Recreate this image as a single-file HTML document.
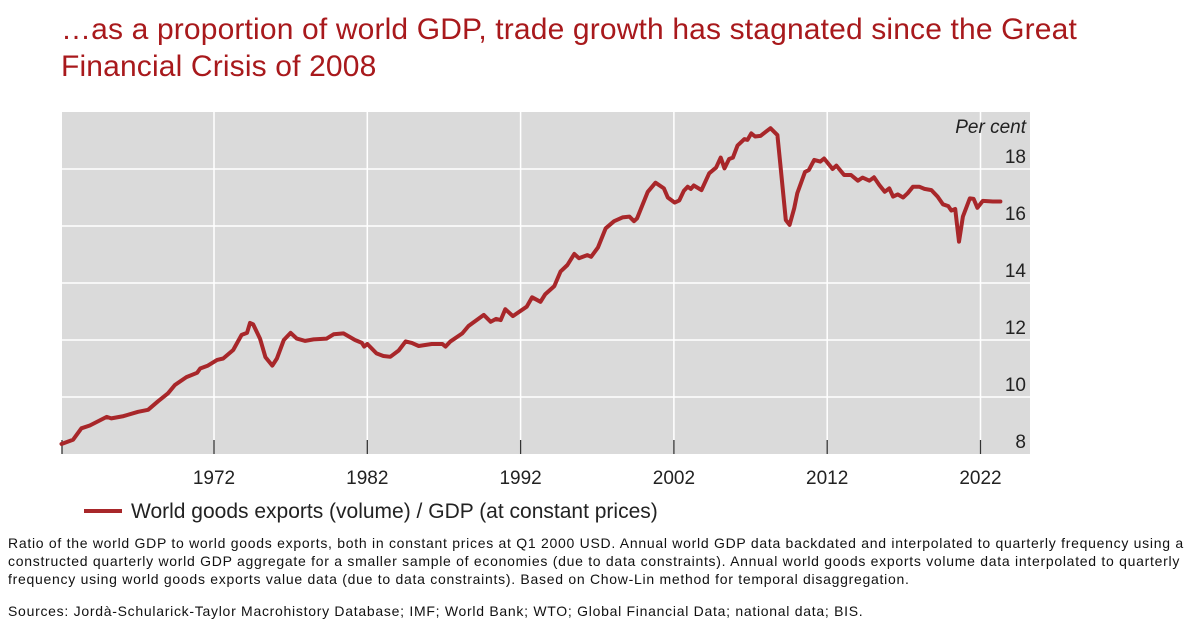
<!DOCTYPE html>
<html><head><meta charset="utf-8">
<style>
body{margin:0;width:1200px;height:629px;background:#fff;font-family:"Liberation Sans",sans-serif;overflow:hidden;position:relative}
#title{position:absolute;left:61px;top:11px;color:#a8191c;font-size:30px;line-height:37px;letter-spacing:0.15px;white-space:nowrap}
.fn{position:absolute;left:8px;font-size:14px;white-space:nowrap;color:#111;letter-spacing:0.72px}
</style></head><body>
<div id="title">…as a proportion of world GDP, trade growth has stagnated since the Great<br>Financial Crisis of 2008</div>
<svg id="chart" width="1200" height="629" style="position:absolute;left:0;top:0">
</svg>
<div class="fn" style="top:535px">Ratio of the world GDP to world goods exports, both in constant prices at Q1 2000 USD. Annual world GDP data backdated and interpolated to quarterly frequency using a</div>
<div class="fn" style="top:553px">constructed quarterly world GDP aggregate for a smaller sample of economies (due to data constraints). Annual world goods exports volume data interpolated to quarterly</div>
<div class="fn" style="top:571px">frequency using world goods exports value data (due to data constraints). Based on Chow-Lin method for temporal disaggregation.</div>
<div class="fn" style="top:603px">Sources: Jordà-Schularick-Taylor Macrohistory Database; IMF; World Bank; WTO; Global Financial Data; national data; BIS.</div>
<script>
const years=[1962.05,1962.8,1963.35,1963.9,1965.0,1965.3,1966.1,1967.05,1967.7,1968.35,1969.0,1969.45,1970.2,1970.9,1971.1,1971.6,1972.2,1972.6,1973.25,1973.8,1974.15,1974.35,1974.55,1975.0,1975.35,1975.8,1976.1,1976.55,1977.0,1977.4,1977.95,1978.5,1979.35,1979.8,1980.45,1981.2,1981.65,1981.8,1982.0,1982.6,1983.05,1983.5,1984.05,1984.5,1984.9,1985.35,1986.2,1986.9,1987.1,1987.4,1988.2,1988.6,1989.6,1990.05,1990.4,1990.7,1991.0,1991.5,1992.4,1992.75,1993.3,1993.6,1994.2,1994.6,1995.05,1995.5,1995.8,1996.35,1996.6,1997.05,1997.55,1998.1,1998.65,1999.1,1999.4,1999.6,2000.3,2000.8,2001.35,2001.6,2002.05,2002.35,2002.65,2002.9,2003.1,2003.3,2003.8,2004.3,2004.75,2005.05,2005.3,2005.6,2005.85,2006.15,2006.6,2006.8,2007.05,2007.3,2007.65,2008.0,2008.3,2008.75,2008.95,2009.3,2009.55,2009.85,2010.05,2010.55,2010.8,2011.15,2011.55,2011.8,2012.35,2012.6,2013.1,2013.55,2014.0,2014.3,2014.75,2015.05,2015.4,2015.75,2016.05,2016.3,2016.6,2016.95,2017.25,2017.6,2018.0,2018.35,2018.8,2019.2,2019.55,2019.9,2020.1,2020.35,2020.6,2020.85,2021.3,2021.55,2021.8,2022.15,2022.8,2023.3];
const values=[8.35,8.5,8.9,9.0,9.3,9.25,9.33,9.48,9.55,9.85,10.13,10.42,10.7,10.85,11.0,11.1,11.3,11.35,11.65,12.18,12.25,12.6,12.55,12.05,11.4,11.1,11.35,12.0,12.25,12.05,11.97,12.02,12.05,12.2,12.23,12.0,11.9,11.77,11.86,11.53,11.44,11.41,11.63,11.95,11.9,11.79,11.86,11.86,11.77,11.94,12.23,12.49,12.88,12.64,12.74,12.7,13.08,12.84,13.17,13.5,13.34,13.6,13.89,14.4,14.63,15.02,14.87,14.98,14.92,15.25,15.92,16.17,16.3,16.33,16.17,16.27,17.2,17.52,17.32,17.0,16.82,16.9,17.24,17.38,17.3,17.42,17.26,17.85,18.05,18.4,18.02,18.35,18.4,18.82,19.05,19.02,19.25,19.14,19.16,19.31,19.43,19.19,18.14,16.21,16.04,16.62,17.15,17.9,17.96,18.32,18.26,18.37,18.0,18.12,17.79,17.79,17.59,17.7,17.59,17.71,17.44,17.2,17.32,17.03,17.11,17.0,17.15,17.38,17.38,17.3,17.26,17.03,16.76,16.7,16.54,16.6,15.45,16.33,16.97,16.95,16.64,16.88,16.86,16.86];
const yTicks=[8,10,12,14,16,18];
const xTicks=[1972,1982,1992,2002,2012,2022];
const NS="http://www.w3.org/2000/svg";
const svg=document.getElementById('chart');
const L=62,R=1030,T=112,B=454;
const x=v=>214+(v-1972)*15.33;
const y=v=>B-(v-8)*28.5;
function mk(t,a,p){const e=document.createElementNS(NS,t);for(const k in a)e.setAttribute(k,a[k]);(p||svg).appendChild(e);return e;}
const bg=mk('rect',{x:L,y:T,width:R-L,height:B-T,fill:'#dadada'});


yTicks.forEach(v=>{
  if(v>8){const g=mk('line',{x1:L,x2:R,y1:y(v),y2:y(v),stroke:'#fff','stroke-width':1.5});
  
  }
  const t=mk('text',{x:1026,y:y(v)-6,'text-anchor':'end','font-size':19,fill:'#222','font-family':'Liberation Sans, sans-serif'});
  t.textContent=v;
  
  
});
xTicks.forEach(v=>{
  const g=mk('line',{x1:x(v),x2:x(v),y1:T,y2:B,stroke:'#fff','stroke-width':1.5});
  
  
  const tk=mk('line',{x1:x(v),x2:x(v),y1:B-14,y2:B,stroke:'#333','stroke-width':1.3});
  
  
  const t=mk('text',{x:x(v),y:484,'text-anchor':'middle','font-size':19,fill:'#222','font-family':'Liberation Sans, sans-serif'});
  t.textContent=v;
  
  
});
const ax=mk('line',{x1:L,x2:L,y1:B-14,y2:B,stroke:'#333','stroke-width':1.3});


const unit=mk('text',{x:1026,y:133,'text-anchor':'end','font-size':19,'font-style':'italic',fill:'#222','font-family':'Liberation Sans, sans-serif'});
unit.textContent='Per cent';


const pts=years.map((yr,i)=>x(yr).toFixed(1)+','+y(values[i]).toFixed(1)).join(' ');
const line=mk('polyline',{points:pts,fill:'none',stroke:'#a8272a','stroke-width':4,'stroke-linejoin':'round','stroke-linecap':'round'});


const lg=mk('line',{x1:84,x2:122,y1:511,y2:511,stroke:'#a8272a','stroke-width':4});


const lt=mk('text',{x:131,y:518,'font-size':21,fill:'#222','font-family':'Liberation Sans, sans-serif'});
lt.textContent='World goods exports (volume) / GDP (at constant prices)';


</script>
</body></html>
